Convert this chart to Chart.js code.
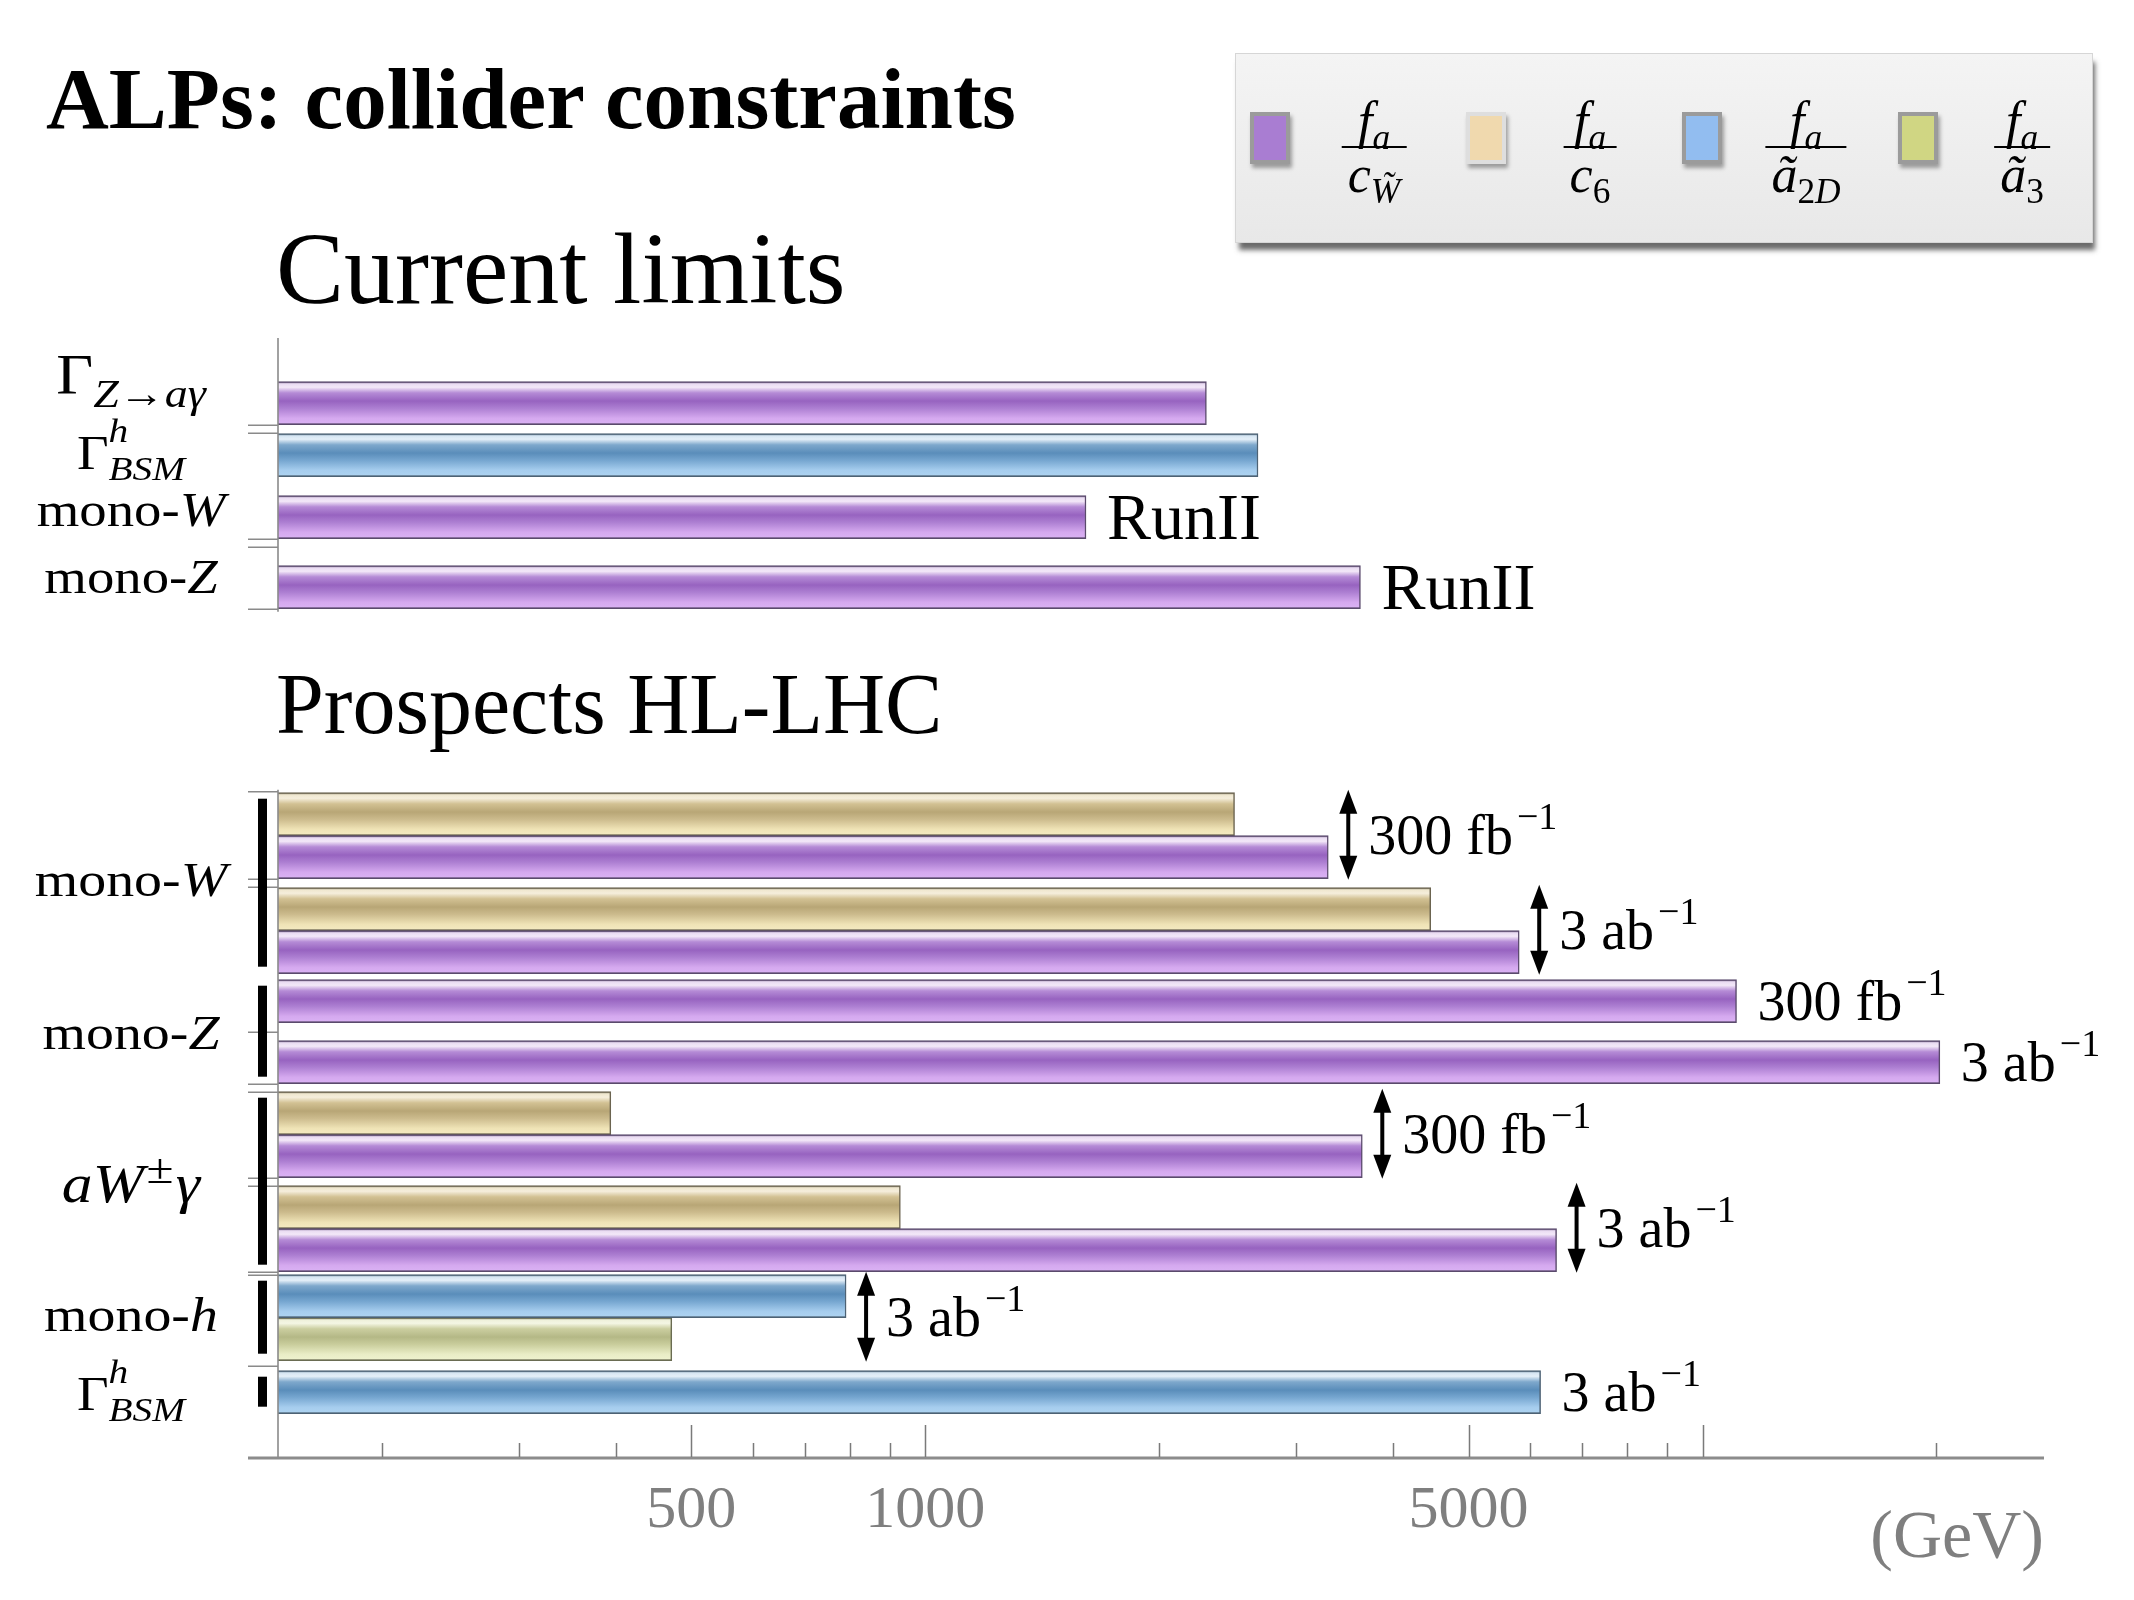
<!DOCTYPE html>
<html>
<head>
<meta charset="utf-8">
<script src="https://cdn.jsdelivr.net/npm/chart.js@4.4.1/dist/chart.umd.min.js"></script>
<style>
html,body{margin:0;padding:0;background:#fff;}
#wrap{position:relative;width:2134px;height:1600px;overflow:hidden;font-family:"Liberation Serif","Times New Roman",serif;color:#000;}
#c{position:absolute;left:0;top:0;}
.abs{position:absolute;white-space:nowrap;line-height:1;}
#legend{position:absolute;left:1235px;top:53px;width:858px;height:190px;box-sizing:border-box;
  background:linear-gradient(to bottom,#f4f4f4,#e8e8e8);border:1px solid #d6d6d6;
  box-shadow:3px 8px 5px -1px rgba(70,70,70,.8);}
.sw{position:absolute;top:58px;width:32px;height:44px;border:4px solid #9b9b9b;box-shadow:2px 4px 4px rgba(0,0,0,.35);}
.frac{position:absolute;top:42px;transform:translateX(-50%);text-align:center;font-size:52px;}
.num{height:50px;line-height:50px;padding:0 6px;}
.den{border-top:2px solid #000;line-height:50px;padding:2px 6px 0 6px;}
.frac .s{font-size:.68em;position:relative;top:.3em;}
.ylab{position:absolute;white-space:nowrap;line-height:1;transform:translateX(-50%) scaleX(1.14);}
.ylab .sb{font-size:.72em;position:relative;top:.32em;}
.ylab .sp{font-size:.8em;position:relative;top:-.45em;margin:0 .05em;}
</style>
</head>
<body>
<div id="wrap">
<canvas id="c" width="2134" height="1600"></canvas>
<div class="abs" style="left:46px;top:55px;font-size:87px;font-weight:bold;">ALPs: collider constraints</div>
<div class="abs" style="left:276px;top:218px;font-size:102px;">Current limits</div>
<div class="abs" style="left:276px;top:661px;font-size:86px;">Prospects HL-LHC</div>
<div id="legend"></div>
<div id="ylabels"></div>
</div>
<script>
// ---------------- DATA ----------------
// one row per bar, top to bottom
const rowProcess = ['Γ Z→aγ','Γ h BSM','mono-W','mono-Z',
  'mono-W','mono-W','mono-W','mono-W','mono-Z','mono-Z',
  'aW±γ','aW±γ','aW±γ','aW±γ','mono-h','mono-h','Γ h BSM'];
const rowLumi = ['current','current','RunII','RunII',
  '300 fb-1','300 fb-1','3 ab-1','3 ab-1','300 fb-1','3 ab-1',
  '300 fb-1','300 fb-1','3 ab-1','3 ab-1','3 ab-1','3 ab-1','3 ab-1'];
// series values: lower bound on f_a / coefficient (GeV)
const fa_cW  = [2300, null, 1610, 3630, null, 3300, null, 5810, 11060, 20200, null, 3650, null, 6490, null, null, null];
const fa_c6  = [null, null, null, null, 2500, null, 4470, null, null, null, 394, null, 929, null, null, null, null];
const fa_a2D = [null, 2680, null, null, null, null, null, null, null, null, null, null, null, null, 791, null, 6190];
const fa_a3  = [null, null, null, null, null, null, null, null, null, null, null, null, null, null, null, 472, null];
const seriesLabels = ['f_a / c_W̃', 'f_a / c_6', 'f_a / ã_2D', 'f_a / ã_3'];
const xTickValues = [200,300,400,500,600,700,800,900,1000,2000,3000,4000,5000,6000,7000,8000,9000,10000,20000];
const xTickLabels = {500:'500', 1000:'1000', 5000:'5000'};
const xMajorTicks = [500,1000,5000,10000];
const xRange = [147, 27500];
const axisTitle = '(GeV)';
// luminosity / run notes next to bars
const notes = [
  {rows:[2], text:'RunII'}, {rows:[3], text:'RunII'},
  {rows:[4,5], text:'300 fb', sup:'−1', arrow:true},
  {rows:[6,7], text:'3 ab', sup:'−1', arrow:true},
  {rows:[8], text:'300 fb', sup:'−1'},
  {rows:[9], text:'3 ab', sup:'−1'},
  {rows:[10,11], text:'300 fb', sup:'−1', arrow:true},
  {rows:[12,13], text:'3 ab', sup:'−1', arrow:true},
  {rows:[14,15], text:'3 ab', sup:'−1', arrow:true},
  {rows:[16], text:'3 ab', sup:'−1'}
];
// process labels on the left
const groupLabels = [
  {rows:[0], html:'Γ<span class="sb"><i>Z</i>→<i>aγ</i></span>', size:56, shift:-0.16},
  {rows:[1], html:'Γ<span class="sb"><span style="position:absolute;left:0;top:-1.05em"><i>h</i></span><i>BSM</i></span>', size:48, shift:0.3},
  {rows:[2], html:'mono-<i>W</i>', size:48, shift:0.18},
  {rows:[3], html:'mono-<i>Z</i>', size:48, shift:0.12},
  {rows:[4,5,6,7], html:'mono-<i>W</i>', size:49, shift:0.27, bar:true},
  {rows:[8,9], html:'mono-<i>Z</i>', size:49, shift:0.36, bar:true},
  {rows:[10,11,12,13], html:'<i>aW</i><span class="sp">±</span><i>γ</i>', size:54, shift:0.38, bar:true},
  {rows:[14,15], html:'mono-<i>h</i>', size:49, shift:0.27, bar:true},
  {rows:[16], html:'Γ<span class="sb"><span style="position:absolute;left:0;top:-1.05em"><i>h</i></span><i>BSM</i></span>', size:48, shift:0.38, bar:true}
];

// ---------------- LAYOUT / STYLE ----------------
const L = {left:278, right:2044, top:338, bottom:1458, pitch:43, bar:43};
const rowGapBefore = [43.7, 9, 19, 27, 184, 0, 9, 0, 6, 18, 8, 0, 8, 0, 3, 0, 10];
const separators = {0:2, 2:2, 3:1, 5:2, 8:1, 9:2, 11:2, 13:2, 15:1}; // after row: 2=double,1=single
const panels = [[0,3],[4,16]];
let acc = 0;
const rowPos = rowGapBefore.map(g => { acc += g; const c = acc + L.pitch/2; acc += L.pitch; return c / L.pitch; });

const gradStops = {
  purple: [[0,'#6b5580'],[0.05,'#e9dbf2'],[0.13,'#f3e8f8'],[0.26,'#b58bd6'],[0.45,'#9763c0'],[0.62,'#ad7fd2'],[0.85,'#d5a9ef'],[0.96,'#d9b0f3'],[1,'#6b5580']],
  beige:  [[0,'#77705a'],[0.05,'#efe7cf'],[0.13,'#f5eedc'],[0.26,'#d2c193'],[0.45,'#b8a676'],[0.62,'#ccbb8d'],[0.85,'#efe3b6'],[0.96,'#f3e9bf'],[1,'#77705a']],
  blue:   [[0,'#4f6a80'],[0.05,'#d5e5f2'],[0.13,'#e4eff8'],[0.26,'#7ea8cc'],[0.45,'#5a8dba'],[0.62,'#76a6d0'],[0.85,'#a6cdee'],[0.96,'#acd2f0'],[1,'#4f6a80']],
  green:  [[0,'#6d7055'],[0.05,'#eef0da'],[0.13,'#f4f6e4'],[0.26,'#cbcea0'],[0.45,'#b4b886'],[0.62,'#c9cd9c'],[0.85,'#e9edc6'],[0.96,'#eef2cd'],[1,'#6d7055']]
};
const seriesColors = {purple:'#a97dd2', beige:'#f0d9ae', blue:'#92bdf0', green:'#d0d683'};
const FONT = '"Liberation Serif","Times New Roman",serif';

function grad(key){
  return (c) => {
    const stops = gradStops[key];
    const ys = c.chart.scales && c.chart.scales.y;
    if (!ys || !c.raw || c.raw.y === undefined) return seriesColors[key];
    const yc = ys.getPixelForValue(c.raw.y);
    if (!isFinite(yc)) return seriesColors[key];
    const g = c.chart.ctx.createLinearGradient(0, yc - L.bar/2, 0, yc + L.bar/2);
    stops.forEach(([o,col]) => g.addColorStop(o,col));
    return g;
  };
}
function pts(arr){ return arr.map((v,i) => v == null ? null : {x:v, y:rowPos[i]}).filter(Boolean); }
function rowValue(i){ return [fa_cW, fa_c6, fa_a2D, fa_a3].map(a => a[i]).find(v => v != null); }

const series = [
  {label:seriesLabels[0], arr:fa_cW,  key:'purple', border:'#5a4a6c'},
  {label:seriesLabels[1], arr:fa_c6,  key:'beige',  border:'#6b6450'},
  {label:seriesLabels[2], arr:fa_a2D, key:'blue',   border:'#4d6274'},
  {label:seriesLabels[3], arr:fa_a3,  key:'green',  border:'#6a6c52'}
];

// ---------------- LEGEND (HTML) ----------------
const legendHTML = [
  {key:'purple', den:'<i>c</i><span class="s"><i>W&#x303;</i></span>', bc:'#9b9b9b'},
  {key:'beige',  den:'<i>c</i><span class="s">6</span>', bc:'#dedede'},
  {key:'blue',   den:'<i>ã</i><span class="s">2<i>D</i></span>', bc:'#9b9b9b'},
  {key:'green',  den:'<i>ã</i><span class="s">3</span>', bc:'#9b9b9b'}
];
const lg = document.getElementById('legend');
legendHTML.forEach((it,k) => {
  const x0 = 14 + 216*k;
  const sw = document.createElement('div');
  sw.className = 'sw';
  sw.style.left = x0 + 'px';
  sw.style.background = seriesColors[it.key];
  sw.style.borderColor = it.bc;
  lg.appendChild(sw);
  const fr = document.createElement('div');
  fr.className = 'frac';
  fr.style.left = (x0 + 124) + 'px';
  fr.innerHTML = '<div class="num"><i>f</i><span class="s"><i>a</i></span></div><div class="den">' + it.den + '</div>';
  lg.appendChild(fr);
});

// ---------------- Y LABELS (HTML) ----------------
const yl = document.getElementById('ylabels');
const labelDivs = groupLabels.map(g => {
  const d = document.createElement('div');
  d.className = 'ylab';
  d.style.left = '131px';
  d.style.fontSize = g.size + 'px';
  d.innerHTML = g.html;
  yl.appendChild(d);
  return d;
});

// ---------------- DECOR PLUGIN ----------------
const decor = {
  id:'decor',
  afterDatasetsDraw(chart){
    const {ctx, chartArea, scales:{x, y}} = chart;
    const half = L.bar/2;
    const top = i => y.getPixelForValue(rowPos[i]) - half;
    const bot = i => y.getPixelForValue(rowPos[i]) + half;
    ctx.save();
    // y axis segments
    ctx.strokeStyle = '#8a8a8a'; ctx.lineWidth = 1.6;
    ctx.beginPath();
    ctx.moveTo(chartArea.left, chartArea.top); ctx.lineTo(chartArea.left, bot(panels[0][1]) + 3);
    ctx.moveTo(chartArea.left, top(panels[1][0]) - 3); ctx.lineTo(chartArea.left, chartArea.bottom);
    ctx.stroke();
    // separator ticks
    ctx.lineWidth = 1.4;
    ctx.beginPath();
    const sx0 = chartArea.left - 30;
    const hline = yy => { ctx.moveTo(sx0, yy); ctx.lineTo(chartArea.left, yy); };
    hline(top(panels[1][0]) - 1);
    Object.keys(separators).forEach(k => {
      const i = +k, b = bot(i);
      if (separators[k] === 2) {
        hline(b + 0.5);
        hline(Math.min(b + 8.5, top(i+1) + 0.5));
      } else {
        const nt = (i+1 < rowPos.length && !panels.some(p => p[0] === i+1)) ? top(i+1) : b;
        hline((b + nt)/2 + 0.5);
      }
    });
    ctx.stroke();
    // black group markers
    ctx.fillStyle = '#000';
    groupLabels.filter(g => g.bar).forEach(g => {
      const t = top(g.rows[0]) + 6, b = bot(g.rows[g.rows.length-1]) - 7;
      ctx.fillRect(chartArea.left - 20, t, 9, b - t);
    });
    // x axis line
    ctx.strokeStyle = '#8c8c8c'; ctx.lineWidth = 3;
    ctx.beginPath();
    ctx.moveTo(chartArea.left - 30, chartArea.bottom); ctx.lineTo(chartArea.right, chartArea.bottom);
    ctx.stroke();
    // x ticks (pointing up)
    ctx.strokeStyle = '#7a7a7a'; ctx.lineWidth = 1.5;
    ctx.beginPath();
    x.ticks.forEach(t => {
      const px = Math.round(x.getPixelForValue(t.value)) + 0.5;
      const len = xMajorTicks.includes(t.value) ? 32 : 14;
      ctx.moveTo(px, chartArea.bottom - 1); ctx.lineTo(px, chartArea.bottom - 1 - len);
    });
    ctx.stroke();
    // notes
    ctx.fillStyle = '#000'; ctx.strokeStyle = '#000';
    notes.forEach(n => {
      const xEnd = Math.max(...n.rows.map(i => x.getPixelForValue(rowValue(i))));
      const t = top(n.rows[0]), b = bot(n.rows[n.rows.length-1]);
      const cy = (t + b)/2;
      let tx = xEnd + 21;
      if (n.arrow) {
        const ax = xEnd + 20;
        const y0 = t - 3, y1 = b + 1;
        ctx.lineWidth = 4;
        ctx.beginPath(); ctx.moveTo(ax, y0 + 14); ctx.lineTo(ax, y1 - 14); ctx.stroke();
        ctx.beginPath(); ctx.moveTo(ax, y0); ctx.lineTo(ax - 9, y0 + 24); ctx.lineTo(ax + 9, y0 + 24); ctx.closePath(); ctx.fill();
        ctx.beginPath(); ctx.moveTo(ax, y1); ctx.lineTo(ax - 9, y1 - 24); ctx.lineTo(ax + 9, y1 - 24); ctx.closePath(); ctx.fill();
        tx = ax + 20;
      }
      const size = n.sup ? 56 : 66;
      ctx.font = size + 'px ' + FONT;
      ctx.textBaseline = 'alphabetic'; ctx.textAlign = 'left';
      const base = cy + size * 0.33;
      ctx.fillText(n.text, tx, base);
      if (n.sup) {
        const w = ctx.measureText(n.text).width;
        ctx.font = '38px ' + FONT;
        ctx.fillText(n.sup, tx + w + 4, base - 25);
      }
    });
    ctx.restore();
  },
  afterDraw(chart){
    const y = chart.scales.y, half = L.bar/2;
    groupLabels.forEach((g,k) => {
      const t = y.getPixelForValue(rowPos[g.rows[0]]) - half;
      const b = y.getPixelForValue(rowPos[g.rows[g.rows.length-1]]) + half;
      const cy = (t + b)/2;
      const baseline = cy + g.shift * g.size;
      labelDivs[k].style.top = (baseline - 0.8375 * g.size) + 'px';
    });
  }
};

// ---------------- CHART ----------------
new Chart(document.getElementById('c'), {
  type:'bar',
  data:{
    datasets: series.map(s => ({
      label: s.label,
      data: pts(s.arr),
      grouped: false,
      barThickness: L.bar,
      backgroundColor: grad(s.key),
      borderColor: s.border,
      borderWidth: 1.5,
      borderSkipped: 'start'
    }))
  },
  options:{
    indexAxis:'y',
    responsive:false,
    animation:false,
    devicePixelRatio:1,
    layout:{padding:{left:0, top:L.top, right:2134 - L.right, bottom:0}},
    plugins:{legend:{display:false}, tooltip:{enabled:false}, title:{display:false}},
    scales:{
      x:{
        type:'logarithmic', position:'bottom', min:xRange[0], max:xRange[1], offset:false,
        afterBuildTicks: s => { s.ticks = xTickValues.map(v => ({value:v})); },
        afterFit: s => { s.height = 1600 - L.bottom; },
        grid:{display:false, drawTicks:false, offset:false}, border:{display:false},
        ticks:{autoSkip:false, maxRotation:0, minRotation:0, padding:17, color:'#7f7f7f',
          font:{family:'Liberation Serif', size:60},
          callback: v => xTickLabels[v] || ''},
        title:{display:true, text:axisTitle, align:'end', color:'#7f7f7f',
          font:{family:'Liberation Serif', size:68}, padding:{top:0, bottom:20}}
      },
      y:{
        type:'linear', reverse:true, min:0, max:(L.bottom - L.top)/L.pitch, offset:false,
        afterFit: s => { s.width = L.left; },
        ticks:{display:false}, grid:{display:false, offset:false}, border:{display:false}
      }
    }
  },
  plugins:[decor]
});
</script>
</body>
</html>
